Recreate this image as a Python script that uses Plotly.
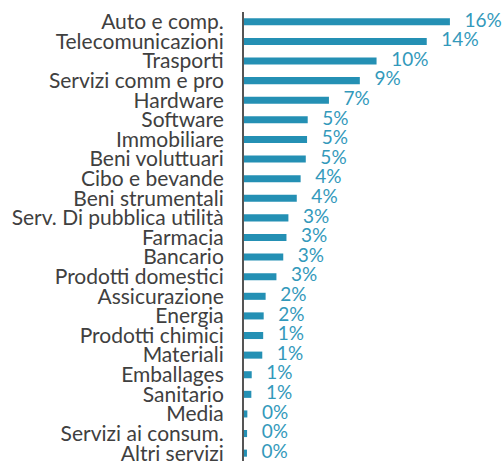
import plotly.graph_objects as go

# Sector weights (%), listed from largest to smallest
sectors = [
    "Auto e comp.", "Telecomunicazioni", "Trasporti", "Servizi comm e pro",
    "Hardware", "Software", "Immobiliare", "Beni voluttuari", "Cibo e bevande",
    "Beni strumentali", "Serv. Di pubblica utilità", "Farmacia", "Bancario",
    "Prodotti domestici", "Assicurazione", "Energia", "Prodotti chimici",
    "Materiali", "Emballages", "Sanitario", "Media", "Servizi ai consum.",
    "Altri servizi",
]
weights = [
    16.0, 14.2, 10.3, 9.0,
    6.6, 4.95, 4.9, 4.8, 4.4,
    4.1, 3.45, 3.3, 3.05,
    2.52, 1.68, 1.53, 1.49,
    1.42, 0.6, 0.57, 0.26, 0.24,
    0.23,
]

BAR = "#2490b4"
LABEL = "#3399bb"
TEXT = "#404040"
FONT = "Lato"

labels = ["\u00a0\u00a0\u00a0" + f"{w:.0f}%" for w in weights]

fig = go.Figure()
fig.add_trace(go.Bar(
    x=weights, y=sectors, orientation="h",
    marker=dict(color=BAR, line=dict(width=0)),
    width=0.36,
    hoverinfo="skip",
))
fig.add_trace(go.Scatter(
    x=weights, y=sectors, mode="text",
    text=labels, textposition="middle right",
    textfont=dict(family=FONT, size=19, color=LABEL),
    cliponaxis=False, hoverinfo="skip",
))

n = len(sectors)
fig.update_layout(
    width=503, height=464,
    margin=dict(l=244, r=0, t=12, b=0),
    paper_bgcolor="white", plot_bgcolor="white",
    showlegend=False,
    font=dict(family=FONT, size=21, color=TEXT),
    xaxis=dict(range=[0, 259 / 12.87], visible=False, fixedrange=True),
    yaxis=dict(
        range=[n - 1 + 0.4, -0.5],
        tickmode="array", tickvals=sectors, ticktext=sectors,
        showgrid=False, zeroline=False,
        showline=True, linecolor="#555555", linewidth=2,
        ticks="", ticklabelstandoff=14,
        tickfont=dict(family=FONT, size=21, color=TEXT),
        fixedrange=True,
    ),
)

fig.write_html("out.html")
